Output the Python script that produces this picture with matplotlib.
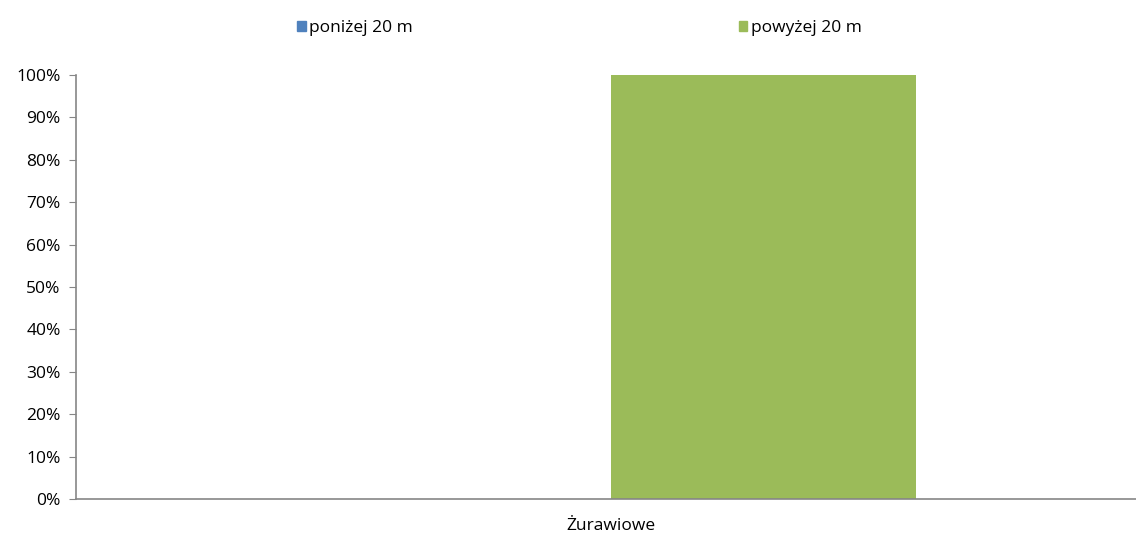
import matplotlib
matplotlib.use("Agg")
import matplotlib.pyplot as plt
from matplotlib.patches import Patch
from matplotlib.ticker import PercentFormatter

categories = ["Żurawiowe"]
series_names = ["poniżej 20 m", "powyżej 20 m"]
values_below = [0]
values_above = [100]
colors = ["#4F81BD", "#9BBB59"]

plt.rcParams['font.family'] = ['Open Sans', 'DejaVu Sans']
FS = 12.5

fig = plt.figure(figsize=(11.36, 5.36), dpi=100)
ax = fig.add_axes([76/1136, 37/536, 1 - 76/1136, (499-75)/536])

w = 1.0
ax.bar([-0.5], values_below, width=w, color=colors[0])
ax.bar([0.5], values_above, width=w, color=colors[1])
ax.set_xlim(-535/305, 525/305)
ax.set_ylim(0, 100)
ax.set_yticks(range(0, 101, 10))
ax.yaxis.set_major_formatter(PercentFormatter(decimals=0))
ax.set_xticks([0])
ax.set_xticklabels(categories)
ax.tick_params(axis='x', length=0, pad=14, labelsize=FS)
ax.tick_params(axis='y', length=5, color='#868686', labelsize=FS, pad=6)
for s in ['top', 'right']:
    ax.spines[s].set_visible(False)
for s in ['left', 'bottom']:
    ax.spines[s].set_color('#868686')
    ax.spines[s].set_linewidth(1.2)

handles = [Patch(color=c, label=n) for c, n in zip(colors, series_names)]
fig.legend(handles=handles, ncol=2, loc='center', bbox_to_anchor=(0.510, 0.947),
           frameon=False, fontsize=FS, handlelength=0.5, handleheight=0.5,
           handletextpad=0.2, columnspacing=18.75)

fig.savefig("out.png", dpi=100)
